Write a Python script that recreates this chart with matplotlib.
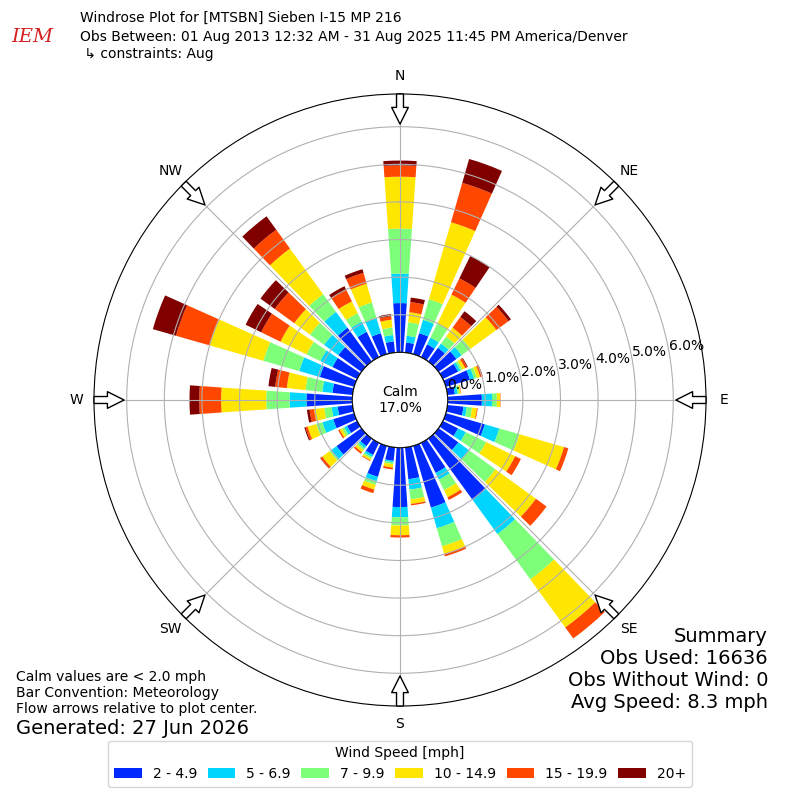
import numpy as np
import matplotlib
matplotlib.use("Agg")
import matplotlib.pyplot as plt
from matplotlib.patches import Circle

# sectors, 10 degree bins (meteorological: direction wind comes from)
directions = np.arange(0, 360, 10)
speed_labels = ["2 - 4.9", "5 - 6.9", "7 - 9.9", "10 - 14.9", "15 - 19.9", "20+"]

# percent of all obs per sector, one list per speed bin
pct_2_5 = [1.31, 0.27, 0.58, 0.38, 0.45, 0.59, 0.45, 0.67, 0.20, 0.91, 0.43, 1.08,
           0.45, 0.65, 2.02, 0.89, 1.71, 0.85, 1.58, 0.36, 0.86, 0.36, 0.25, 0.82,
           0.30, 0.58, 0.40, 1.22, 0.54, 0.95, 0.73, 0.76, 1.11, 0.75, 0.58, 0.30]
pct_5_7 = [0.78, 0.18, 0.37, 0.20, 0.14, 0.17, 0.07, 0.11, 0.07, 0.27, 0.09, 0.40,
           0.23, 0.35, 1.12, 0.20, 0.57, 0.28, 0.27, 0.04, 0.12, 0.06, 0.07, 0.18,
           0.08, 0.30, 0.16, 0.45, 0.27, 0.57, 0.36, 0.47, 0.52, 0.30, 0.42, 0.17]
pct_7_10 = [1.20, 0.36, 0.57, 0.41, 0.23, 0.29, 0.06, 0.08, 0.05, 0.13, 0.14, 0.56,
            0.60, 0.87, 1.49, 0.31, 0.50, 0.26, 0.22, 0.05, 0.10, 0.05, 0.06, 0.05,
            0.07, 0.17, 0.20, 0.62, 0.45, 0.99, 0.41, 0.46, 0.58, 0.25, 0.43, 0.20]
pct_10_15 = [1.38, 0.27, 2.13, 0.86, 0.29, 0.85, 0.08, 0.09, 0.04, 0.09, 0.13, 1.23,
             0.86, 1.33, 1.58, 0.21, 0.21, 0.12, 0.26, 0.09, 0.13, 0.05, 0.07, 0.24,
             0.07, 0.24, 0.27, 1.20, 0.50, 1.50, 0.77, 0.52, 1.50, 0.35, 0.52, 0.21]
pct_15_20 = [0.30, 0.27, 1.09, 0.48, 0.35, 0.40, 0.06, 0.06, 0.01, 0.01, 0.02, 0.12,
             0.17, 0.35, 0.36, 0.08, 0.07, 0.04, 0.06, 0.05, 0.10, 0.02, 0.05, 0.06,
             0.04, 0.06, 0.12, 0.58, 0.31, 0.92, 0.57, 0.64, 0.62, 0.35, 0.30, 0.09]
pct_20_up = [0.13, 0.12, 0.66, 0.66, 0.19, 0.08, 0.02, 0.01, 0.00, 0.00, 0.00, 0.00,
             0.00, 0.00, 0.00, 0.00, 0.00, 0.00, 0.00, 0.00, 0.00, 0.00, 0.00, 0.01,
             0.00, 0.03, 0.07, 0.26, 0.18, 0.64, 0.46, 0.47, 0.44, 0.10, 0.10, 0.06]

calm_pct = 17.0
dir_labels = ["N", "NE", "E", "SE", "S", "SW", "W", "NW"]
ring_values = [0, 1, 2, 3, 4, 5, 6]

series = [pct_2_5, pct_5_7, pct_7_10, pct_10_15, pct_15_20, pct_20_up]
colors = plt.get_cmap("jet")(np.linspace(0, 1, 7))[1:]

fig = plt.figure(figsize=(8, 8), dpi=100)
ax = fig.add_axes([0.1175, 0.1175, 0.765, 0.765], projection="polar")
ax.set_theta_zero_location("N")
ax.set_theta_direction(-1)

theta = np.deg2rad(directions)
width = np.deg2rad(10) * 0.8
base = np.zeros(len(directions))
for vals, c, lab in zip(series, colors, speed_labels):
    ax.bar(theta, vals, width=width, bottom=base, color=c, label=lab, lw=0)
    base += np.array(vals)

rmax = 6.87
ax.set_ylim(0, rmax)
ax.set_rorigin(-1.267)

# rings + labels
ax.set_yticks(ring_values)
ax.set_yticklabels([])
for v in ring_values:
    ax.text(np.deg2rad(80), v, f"{v:.1f}%", ha="left", va="bottom", fontsize=10)

ax.set_xticks(np.deg2rad(np.arange(0, 360, 45)))
ax.set_xticklabels(dir_labels)
ax.tick_params(axis="x", pad=2.5, labelsize=10)

# flow arrows
for ang in range(0, 360, 45):
    ax.annotate("", xy=(np.deg2rad(ang), rmax - 0.8), xytext=(np.deg2rad(ang), rmax),
                arrowprops=dict(arrowstyle="simple,head_length=1.2,head_width=1.2,tail_width=0.5",
                                fc="white", ec="black", lw=1, shrinkA=0, shrinkB=0),
                annotation_clip=False, zorder=5)

# calm hole
ax.add_artist(Circle((0.5, 0.5), 47.5 / 612, transform=ax.transAxes,
                     fc="white", ec="black", lw=1, zorder=10))
ax.text(0.5, 0.5, f"Calm\n{calm_pct:.1f}%", transform=ax.transAxes,
        ha="center", va="center", fontsize=10, zorder=11)

handles, labels = ax.get_legend_handles_labels()
fig.legend(handles, labels, loc="lower center", bbox_to_anchor=(0.5, 0.008), ncol=6,
           title="Wind Speed [mph]", fontsize=10, title_fontsize=10, columnspacing=0.75)

# header
fig.text(0.04, 1 - 37 / 800, "IEM", color="#d42020", fontsize=14, style="italic",
         family="DejaVu Serif", va="center", ha="center")
fig.text(0.1, 1 - 18 / 800, "Windrose Plot for [MTSBN] Sieben I-15 MP 216", va="center", fontsize=10)
fig.text(0.1, 1 - 37 / 800, "Obs Between: 01 Aug 2013 12:32 AM - 31 Aug 2025 11:45 PM America/Denver",
         va="center", fontsize=10)
fig.text(0.1, 1 - 54 / 800, " ↳ constraints: Aug", va="center", fontsize=10)

fig.text(0.02, 1 - 693 / 800,
         "Calm values are < 2.0 mph\nBar Convention: Meteorology\nFlow arrows relative to plot center.",
         va="center", fontsize=10)
fig.text(0.02, 1 - 729 / 800, "Generated: 27 Jun 2026", va="center", fontsize=14)
fig.text(0.96, 1 - 670 / 800,
         "Summary\nObs Used: 16636\nObs Without Wind: 0\nAvg Speed: 8.3 mph",
         ha="right", va="center", fontsize=14, multialignment="right")

fig.savefig("out.png", dpi=100)
